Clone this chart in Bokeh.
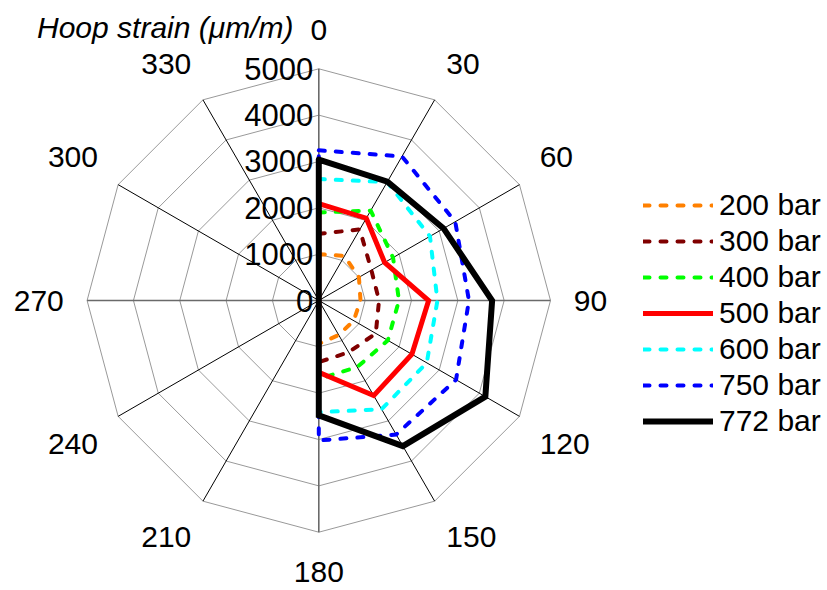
import math
from bokeh.plotting import figure
from bokeh.models import Legend, LegendItem, Range1d
from bokeh.core.properties import value
from bokeh.embed import file_html
from bokeh.resources import INLINE

# ---------------- data ----------------
angles = [0, 30, 60, 90, 120, 150, 180, 210, 240, 270, 300, 330]
angle_labels = [str(a) for a in angles]
tick_values = [0, 1000, 2000, 3000, 4000, 5000]
tick_labels = ["0", "1000", "2000", "3000", "4000", "5000"]
series_names = ["200 bar", "300 bar", "400 bar", "500 bar", "600 bar", "750 bar", "772 bar"]
s200 = [1000, 1110, 1000, 900, 870, 860, 935, 0, 0, 0, 0, 0]
s300 = [1440, 1770, 1310, 1300, 1420, 1290, 1330, 0, 0, 0, 0, 0]
s400 = [1900, 2240, 1850, 1730, 1720, 1660, 1690, 0, 0, 0, 0, 0]
s500 = [2090, 2050, 1640, 2370, 2320, 2370, 1550, 0, 0, 0, 0, 0]
s600 = [2620, 2950, 2770, 2560, 2690, 2710, 2410, 0, 0, 0, 0, 0]
s750 = [3240, 3590, 3400, 3240, 3420, 3340, 3020, 0, 0, 0, 0, 0]
s772 = [3040, 2960, 3110, 3740, 4150, 3630, 2480, 0, 0, 0, 0, 0]
series_values = [s200, s300, s400, s500, s600, s750, s772]

# ---------------- styles ----------------
colors = ["#FF8000", "#800000", "#00FF00", "#FF0000", "#00FFFF", "#0000FF", "#000000"]
widths = [4, 4, 4, 5, 4, 4, 6]
dashes = ["6 11", "6 11", "6 11", "solid", "6 11", "6 11", "solid"]
FONT = "Liberation Sans"

W, H = 827, 590
R_PX = 231.7                 # radius of the 5000 ring in pixels
CX, CY = 318.3, 300.0        # centre in canvas pixels (from top-left)
rmax = 5000.0
s = R_PX / rmax              # px per unit

p = figure(width=W, height=H, output_backend="svg", toolbar_location=None,
           x_axis_location=None, y_axis_location=None,
           min_border=0, min_border_left=0, min_border_right=0,
           min_border_top=0, min_border_bottom=0,
           x_range=Range1d(-CX / s, (W - CX) / s),
           y_range=Range1d(-(H - CY) / s, CY / s))
p.outline_line_color = None
p.grid.visible = False
p.background_fill_color = "white"
p.border_fill_color = "white"


def pol(r, a):
    t = math.radians(a)
    return r * math.sin(t), r * math.cos(t)


# rings
for tv in tick_values[1:]:
    xs, ys = [], []
    for a in angles + [angles[0]]:
        x, y = pol(tv, a)
        xs.append(x)
        ys.append(y)
    p.line(xs, ys, line_color="#999999", line_width=1)

# spokes
for a in angles:
    x, y = pol(rmax, a)
    if a % 90 == 0:
        p.line([0, x], [0, y], line_color="#6a6a6a", line_width=1.6)
    else:
        p.line([0, x], [0, y], line_color="#000000", line_width=1)

# series
items = []
for name, vals, c, w, d in zip(series_names, series_values, colors, widths, dashes):
    xs, ys = [], []
    for v, a in zip(vals + [vals[0]], angles + [angles[0]]):
        x, y = pol(v, a)
        xs.append(x)
        ys.append(y)
    r = p.line(xs, ys, line_color=c, line_width=w, line_dash=d,
               line_cap="round", line_join="miter")
    items.append(LegendItem(label=name, renderers=[r]))

# tick labels
p.text(x=[-5.5 / s] * len(tick_values), y=tick_values, text=tick_labels,
       text_font=value(FONT), text_font_size="31px", text_color="black",
       text_align="right", text_baseline="middle")

# angle labels: anchored just outside the outer ring
fs = 30
anchor_px = 255
for a, lab in zip(angles, angle_labels):
    t = math.radians(a)
    sn, cs = math.sin(t), math.cos(t)
    if abs(sn) < 1e-9:
        align = "center"
    elif sn > 0:
        align = "left"
    else:
        align = "right"
    if abs(cs) < 1e-9:
        yoff = 0
    else:
        yoff = -16 if cs > 0 else 16
    x, y = pol(anchor_px / s, a)
    p.text(x=[x], y=[y], text=[lab], text_font=value(FONT),
           text_font_size=f"{fs}px", text_color="black",
           text_align=align, text_baseline="middle", y_offset=yoff)

# axis title
p.text(x=[(293 - CX) / s], y=[(CY - 27) / s], text=["Hoop strain (μm/m)"],
       text_font=value(FONT), text_font_size="30px", text_font_style="italic",
       text_color="black", text_align="right", text_baseline="middle")

legend = Legend(items=items, location=(643, 151), orientation="vertical",
                label_text_font=FONT, label_text_font_size="30px",
                label_text_color="black",
                glyph_width=70, glyph_height=36, label_height=36,
                label_standoff=6, spacing=0, padding=0, margin=0,
                border_line_color=None, background_fill_alpha=0)
p.add_layout(legend)

open("out.html", "w").write(file_html(p, INLINE))
